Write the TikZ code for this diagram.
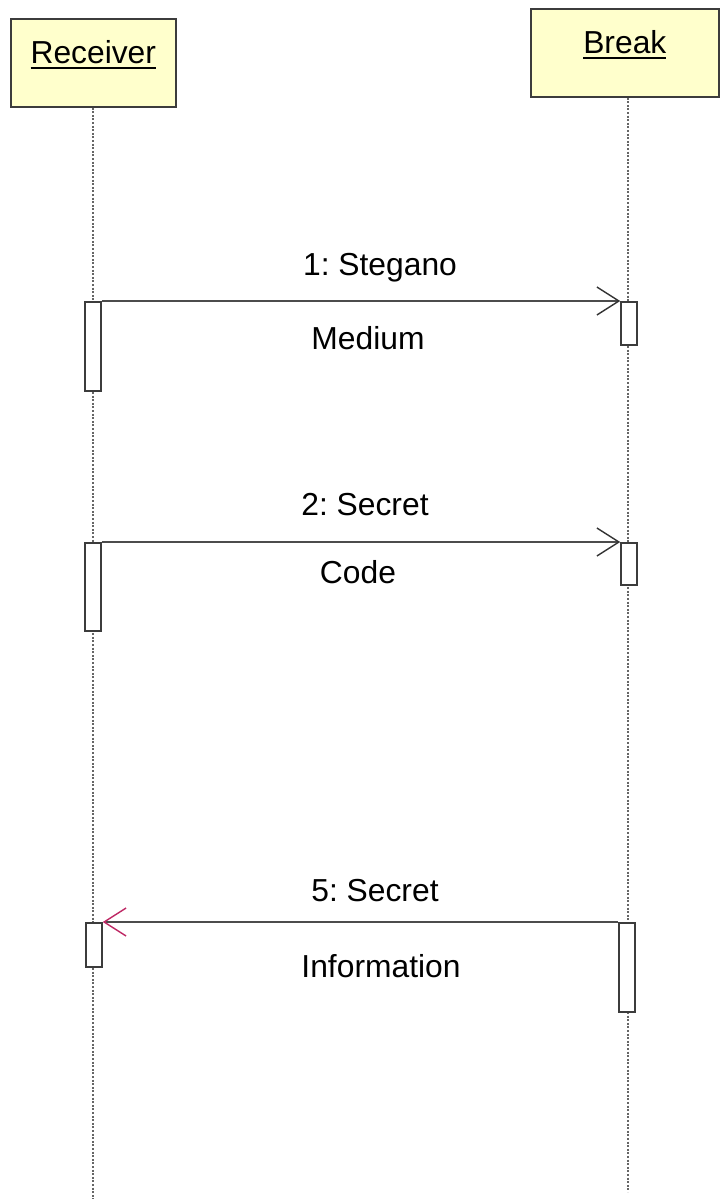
\documentclass[tikz,border=0pt]{standalone}
\usepackage{fontspec}
\setmainfont{Liberation Sans}
\usetikzlibrary{arrows.meta}
\frenchspacing

\definecolor{objfill}{RGB}{255,255,204}
\definecolor{objline}{RGB}{60,60,60}
\definecolor{retarrow}{RGB}{190,40,100}

% underlined object name
\newcommand\objname[1]{\setbox0\hbox{#1}\rlap{\rule[-2.6pt]{\wd0}{1.2pt}}\box0}

\begin{document}
\begin{tikzpicture}[x=0.5pt, y=-0.5pt, font=\fontsize{15.9}{19}\selectfont,
    obj/.style={draw=objline, line width=0.8pt, fill=objfill, inner sep=0pt,
      anchor=north west, text height=22.5pt, text depth=21.5pt},
    lifeline/.style={draw=black!60, line width=0.6pt, dash pattern=on 1pt off 0.8pt},
    act/.style={draw=objline, line width=0.8pt, fill=white, minimum width=8pt,
      inner sep=0pt, anchor=north},
    msg/.style={draw=black!70, line width=0.7pt,
      -{Straight Barb[length=11pt,width=14pt,color=black!80]}},
    ret/.style={draw=black!70, line width=0.7pt,
      -{Straight Barb[length=11pt,width=14pt,color=retarrow]}},
    lbl/.style={anchor=base}]
  \useasboundingbox (0,0) rectangle (721,1199);

  % objects
  \node[obj, minimum width=82.5pt] (recv) at (10,18) {\objname{Receiver}};
  \node[obj, minimum width=94pt] (brk) at (530,8) {\objname{Break}};

  % lifelines
  \coordinate (recvend) at (93,1199);
  \coordinate (brkend) at (628,1192);
  \draw[lifeline] (recv.south -| recvend) -- (recvend);
  \draw[lifeline] (brk.south -| brkend) -- (brkend);

  % activations
  \node[act, minimum height=44.5pt] (r1) at (93,301) {};
  \node[act, minimum height=44pt] (r2) at (93,542) {};
  \node[act, minimum height=22pt] (r3) at (94,922) {};
  \node[act, minimum height=21.5pt] (b1) at (629,301) {};
  \node[act, minimum height=21pt] (b2) at (629,542) {};
  \node[act, minimum height=44.5pt] (b3) at (627,922) {};

  % messages
  \draw[msg] (r1.north east) -- (b1.north west);
  \draw[msg] (r2.north east) -- (b2.north west);
  \draw[ret] (b3.north west) -- (r3.north east);

  % message texts
  \node[lbl] (m1a) at (380,275) {1: Stegano};
  \node[lbl] (m1b) at (368,349) {Medium};
  \node[lbl] (m2a) at (365,515) {2: Secret};
  \node[lbl] (m2b) at (358,583) {Code};
  \node[lbl] (m5a) at (375,901) {5: Secret};
  \node[lbl] (m5b) at (381,977) {Information};
\end{tikzpicture}
\end{document}
